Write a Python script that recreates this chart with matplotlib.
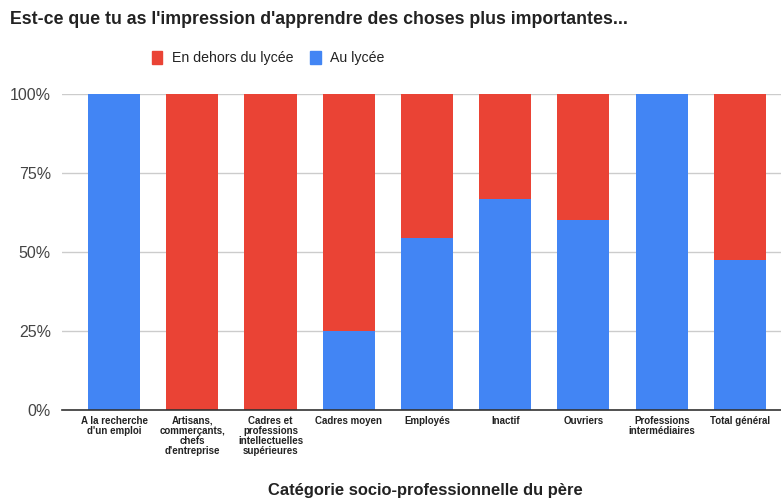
import matplotlib
matplotlib.use("Agg")
import matplotlib.pyplot as plt
from matplotlib.ticker import FixedLocator
from matplotlib.patches import Patch

plt.rcParams['font.family'] = ['Liberation Sans', 'DejaVu Sans']

categories = ["A la recherche\nd'un emploi",
              "Artisans,\ncommerçants,\nchefs\nd'entreprise",
              "Cadres et\nprofessions\nintellectuelles\nsupérieures",
              "Cadres moyen",
              "Employés",
              "Inactif",
              "Ouvriers",
              "Professions\nintermédiaires",
              "Total général"]
au_lycee = [100, 0, 0, 25, 54.5, 66.7, 60, 100, 47.5]
en_dehors = [100 - v for v in au_lycee]
series_names = ["En dehors du lycée", "Au lycée"]
yticks = [0, 25, 50, 75, 100]
ytick_labels = ["0%", "25%", "50%", "75%", "100%"]

blue = "#4285F4"
red = "#EA4335"

fig = plt.figure(figsize=(7.81, 4.99), dpi=100)
ax = fig.add_axes([62/781, 89/499, 1 - 62/781, (410-94)/499])

x = list(range(len(categories)))
w = 0.665
ax.bar(x, au_lycee, width=w, color=blue, zorder=3)
ax.bar(x, en_dehors, bottom=au_lycee, width=w, color=red, zorder=3)

ax.set_xlim(-0.665, 8.525)
ax.set_ylim(0, 100)
ax.yaxis.set_major_locator(FixedLocator(yticks))
ax.set_yticklabels(ytick_labels, fontsize=11.5, color="#444444")
ax.set_xticks(x)
ax.set_xticklabels(categories, fontsize=7, fontweight='bold', color="#222222", linespacing=1.0)
ax.tick_params(axis='both', length=0)
ax.tick_params(axis='y', pad=8)
ax.tick_params(axis='x', pad=4)
ax.grid(axis='y', color="#cccccc", linewidth=1, zorder=0)
for s in ['top', 'right', 'left']:
    ax.spines[s].set_visible(False)
ax.spines['bottom'].set_color("#333333")
ax.spines['bottom'].set_linewidth(1.2)
ax.spines['bottom'].set_zorder(4)

fig.text(10/781, 1 - 20/499, "Est-ce que tu as l'impression d'apprendre des choses plus importantes...",
         fontsize=12.8, fontweight='bold', color="#222222", va='center', ha='left')

handles = [Patch(color=red), Patch(color=blue)]
fig.legend(handles, series_names, loc='center', bbox_to_anchor=(268/781, 1 - 58/499),
           ncol=2, frameon=False, handlelength=0.75, handleheight=1.0,
           handletextpad=0.65, columnspacing=1.2, labelcolor="#222222",
           fontsize=10.2)

fig.text(425/781, 1 - 490/499, "Catégorie socio-professionnelle du père",
         fontsize=11.9, fontweight='bold', color="#222222", ha='center', va='center')

fig.savefig("out.png", dpi=100)
